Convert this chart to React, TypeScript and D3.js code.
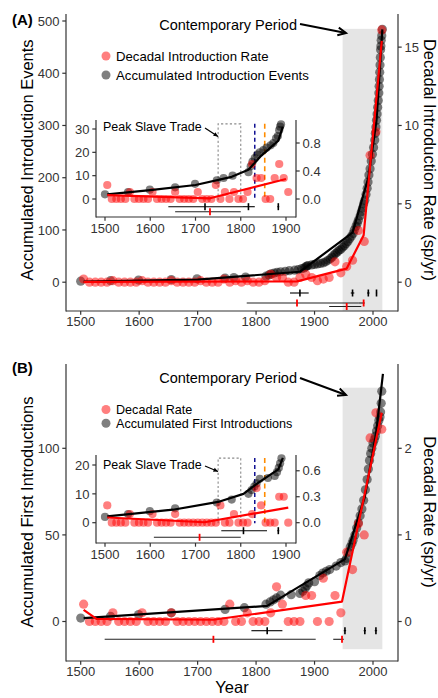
import React from "react";
import * as d3 from "d3";

// ---------- DATA ----------
const decades = [1505, 1515, 1525, 1535, 1545, 1555, 1565, 1575, 1585, 1595, 1605, 1615, 1625, 1635, 1645, 1655, 1665, 1675, 1685, 1695, 1705, 1715, 1725, 1735, 1745, 1755, 1765, 1775, 1785, 1795, 1805, 1815, 1825, 1835, 1845, 1855, 1865, 1875, 1885, 1895, 1905, 1915, 1925, 1935, 1945, 1955, 1965, 1975, 1985, 1995, 2005, 2015];

const rateA = [0.2, 0, 0, 0, 0, 0.1, 0, 0, 0, 0, 0.1, 0, 0, 0, 0, 0.1, 0, 0, 0, 0, 0.1, 0, 0, 0, 0.2, 0, 0.1, 0, 0.1, 0, 0, 0.1, 0.5, 0.3, 0.3, 0, 0, 0.3, 0.5, 0.3, 0.1, 0.2, 0.3, 1.3, 0.6, 1.0, 1.4, 3.3, 2.6, 8.1, 9.6, 16.1];

const rateB = [0.2, 0, 0, 0, 0, 0.1, 0, 0, 0, 0, 0.1, 0, 0, 0, 0, 0.1, 0, 0, 0, 0, 0, 0, 0, 0, 0, 0.2, 0, 0, 0.1, 0, 0, 0, 0.1, 0.4, 0.2, 0, 0, 0, 0.3, 0.3, 0, 0.5, 0, 0.3, 0.1, 0.8, 0.6, 1.13, 1.0, 2.12, 2.41, 2.22];

const accumA = [
  [1500, 2], [1551, 3], [1599, 4], [1655, 5], [1699, 6.5], [1747, 8], [1762, 9], [1782, 10], [1817, 11.5], [1822, 14], [1826, 16], [1831, 17.5], [1836, 19], [1842, 20], [1850, 21], [1857, 22], [1866, 23], [1872, 24], [1878, 26], [1882, 27], [1885, 29.5], [1887, 31], [1889, 32],
  [1895, 33], [1900, 34], [1905, 35], [1910, 36], [1915, 37], [1919, 39], [1923, 42], [1927, 45], [1930, 48], [1933, 52], [1936, 55], [1939, 58], [1942, 61], [1945, 63], [1948, 67], [1951, 70], [1954, 74], [1957, 78], [1960, 83], [1963, 88], [1966, 93], [1968, 100], [1971, 107], [1973, 113], [1975, 119], [1978, 127], [1980, 135], [1982, 142], [1984, 150], [1986, 157], [1988, 168], [1990, 180], [1991.5, 192], [1993, 205], [1995, 217], [1997, 232], [1999, 245], [2001, 258], [2003, 272], [2004, 285], [2005, 297], [2006, 310], [2007, 322], [2008, 335], [2009, 348], [2010, 362], [2010.5, 375], [2011, 388], [2011.5, 402], [2012, 416], [2012.5, 430], [2013, 445], [2013.5, 452], [2014, 463], [2015, 472], [2016, 484],
];

const accumB = [
  [1500, 2], [1551, 3], [1599, 4], [1655, 5], [1747, 7], [1780, 8], [1817, 10], [1824, 11.3], [1830, 12.5], [1835, 13.6], [1842, 15.2], [1860, 15.5], [1875, 16.2], [1880, 17.5], [1884, 19], [1887, 20.6], [1890, 22.3],
  [1900, 23], [1909, 26.5], [1914, 28], [1920, 29], [1926, 30], [1937, 32], [1945, 34], [1952, 35], [1955, 36.5], [1958, 40], [1961, 43], [1964, 45], [1966, 47], [1969, 50], [1972, 54], [1975, 57], [1978, 61], [1981, 65], [1984, 70], [1987, 76], [1990, 82], [1992, 88], [1994, 93], [1996, 97], [1998, 100], [2000, 103], [2002, 105], [2004, 107], [2006, 110], [2008, 113], [2010, 116], [2012, 118], [2013, 121], [2014, 126], [2015, 133],
];

const fitAccA = [[1505, 1], [1700, 5], [1875, 20], [1965, 95], [1992, 200], [2006, 310], [2016, 484]];
const fitRateA = [[1505, 0.02], [1870, 0.05], [1955, 0.87], [1984, 3.0], [2015, 15.4]];
const fitAccB = [[1505, 2], [1819, 9], [1952, 36], [1986, 72], [2005, 108], [2017, 143]];
const fitRateB = [[1505, 0.135], [1527, 0.03], [1727, 0.02], [1947, 0.23], [2015, 2.41]];

const insetFitAccA = [[1505, 2], [1600, 3.8], [1700, 6], [1780, 9.5], [1817, 12.5], [1845, 18.5], [1883, 25], [1893, 31]];
const insetFitRateA = [[1505, 0.055], [1732, 0.01], [1900, 0.285]];
const insetFitAccB = [[1505, 2.2], [1650, 4.5], [1750, 7.2], [1806, 10], [1840, 14], [1883, 18.5], [1893, 22.5]];
const insetFitRateB = [[1505, 0.06], [1720, 0.005], [1905, 0.175]];

const bpAccA = [{ est: 1875, lo: 1858, hi: 1890 }, { est: 1965, lo: 1962, hi: 1968 }, { est: 1992, lo: 1990, hi: 1994 }, { est: 2006, lo: 2005, hi: 2007 }];
const bpRateA = [{ est: 1870, lo: 1784, hi: 1975 }, { est: 1984, lo: 1975, hi: 1986 }];
const bpRateA2 = [{ est: 1955, lo: 1925, hi: 1980 }];
const bpAccB = [{ est: 1819, lo: 1792, hi: 1845 }, { est: 1952, lo: 1950, hi: 1954 }, { est: 1986, lo: 1984, hi: 1988 }, { est: 2005, lo: 2003, hi: 2007 }];
const bpRateB = [{ est: 1727, lo: 1541, hi: 1902 }, { est: 1947, lo: 1932, hi: 1950 }];
const insetBpAccA = [{ est: 1721, lo: 1640, hi: 1805 }, { est: 1817, lo: 1805, hi: 1831 }, { est: 1883, lo: 1881, hi: 1885 }];
const insetBpRateA = [{ est: 1732, lo: 1655, hi: 1800 }];
const insetBpAccB = [{ est: 1806, lo: 1757, hi: 1858 }, { est: 1883, lo: 1881, hi: 1885 }];
const insetBpRateB = [{ est: 1709, lo: 1608, hi: 1800 }];

const xTicksMain = [1500, 1600, 1700, 1800, 1900, 2000];
const xTicksInset = [1500, 1600, 1700, 1800, 1900];
const yTicksA = [0, 100, 200, 300, 400, 500];
const rTicksA = [0, 5, 10, 15];
const yTicksInsetA = [0, 10, 20, 30];
const rTicksInsetA = [0, 0.4, 0.8];
const yTicksB = [0, 50, 100];
const rTicksB = [0, 1, 2];
const yTicksInsetB = [0, 10, 20];
const rTicksInsetB = [0, 0.3, 0.6];

const factorA = 30;
const factorB = 50;
const factorInset = 30;
const slaveTrade = [1750, 1800];
const markerBlue = 1831;
const markerOrange = 1853;
const contemporary = [1948, 2016];

// ---------- STYLE ----------
const FONT = "'Liberation Sans', Arial, Helvetica, sans-serif";
const RED_PT = "rgba(255,0,0,0.5)";
const BLK_PT = "rgba(0,0,0,0.5)";
const AXIS = "#333";
const TICKTXT = "#333";

type BP = { est: number; lo: number; hi: number };

function Arrow({ x1, y1, x2, y2, len, sw, filled }: any) {
  const a = Math.atan2(y2 - y1, x2 - x1);
  const s = 0.45;
  const p1 = [x2 - len * Math.cos(a - s), y2 - len * Math.sin(a - s)];
  const p2 = [x2 - len * Math.cos(a + s), y2 - len * Math.sin(a + s)];
  return (
    <g>
      <line x1={x1} y1={y1} x2={x2} y2={y2} stroke="#000" strokeWidth={sw} />
      {filled ? (
        <polygon points={`${p1[0]},${p1[1]} ${x2},${y2} ${p2[0]},${p2[1]}`} fill="#000" />
      ) : (
        <polyline points={`${p1[0]},${p1[1]} ${x2},${y2} ${p2[0]},${p2[1]}`} fill="none" stroke="#000" strokeWidth={sw} />
      )}
    </g>
  );
}

function Plot(p: any) {
  const { xs, ys, box, factor, xTicks, yTicks, rTicks, rFmt, accum, rateX, rateY, fitAcc, fitRate, bpAcc, bpRateRows, rowAcc, rowRate, r, fs, xLabY } = p;
  const line = d3.line<number[]>().x((d) => xs(d[0])).y((d) => ys(d[1]));
  const rline = d3.line<number[]>().x((d) => xs(d[0])).y((d) => ys(d[1] * factor));
  return (
    <g>
      {p.bg && <rect x={box.l} y={box.t} width={box.r - box.l} height={box.b - box.t} fill="#fff" />}
      {p.under}
      {accum.map((d: number[], i: number) => (
        <circle key={"a" + i} cx={xs(d[0])} cy={ys(d[1])} r={r} fill={BLK_PT} />
      ))}
      {rateX.map((x: number, i: number) => (
        <circle key={"r" + i} cx={xs(x)} cy={ys(rateY[i] * factor)} r={r} fill={RED_PT} />
      ))}
      <path d={line(fitAcc) || ""} stroke="#000" strokeWidth={2.2} fill="none" strokeLinejoin="round" />
      <path d={rline(fitRate) || ""} stroke="#ff0000" strokeWidth={2.2} fill="none" strokeLinejoin="round" />
      {bpAcc.map((b: BP, i: number) => (
        <g key={"ba" + i}>
          <line x1={xs(b.lo)} x2={xs(b.hi)} y1={rowAcc} y2={rowAcc} stroke="#000" strokeWidth={1.1} />
          <line x1={xs(b.est)} x2={xs(b.est)} y1={rowAcc - 3.5} y2={rowAcc + 3.5} stroke="#000" strokeWidth={1.6} />
        </g>
      ))}
      {bpRateRows.map((row: BP[], k: number) =>
        row.map((b: BP, i: number) => (
          <g key={"br" + k + "_" + i}>
            <line x1={xs(b.lo)} x2={xs(b.hi)} y1={rowRate[k]} y2={rowRate[k]} stroke="#222" strokeWidth={1.1} />
            <line x1={xs(b.est)} x2={xs(b.est)} y1={rowRate[k] - 3.5} y2={rowRate[k] + 3.5} stroke="#ff0000" strokeWidth={1.8} />
          </g>
        ))
      )}
      <g stroke={AXIS} strokeWidth={1.2} fill="none">
        <line x1={box.l} x2={box.l} y1={box.t} y2={box.b + 0.6} />
        <line x1={box.r} x2={box.r} y1={box.t} y2={box.b + 0.6} />
        <line x1={box.l} x2={box.r} y1={box.b} y2={box.b} />
        {xTicks.map((t: number) => (
          <line key={"xt" + t} x1={xs(t)} x2={xs(t)} y1={box.b} y2={box.b + 3.7} />
        ))}
        {yTicks.map((t: number) => (
          <line key={"yt" + t} x1={box.l - 3.7} x2={box.l} y1={ys(t)} y2={ys(t)} />
        ))}
        {rTicks.map((t: number) => (
          <line key={"rt" + t} x1={box.r} x2={box.r + 3.7} y1={ys(t * factor)} y2={ys(t * factor)} />
        ))}
      </g>
      <g fontFamily={FONT} fontSize={fs} fill={TICKTXT}>
        {xTicks.map((t: number) => (
          <text key={"xl" + t} x={xs(t)} y={box.b + xLabY} textAnchor="middle">{t}</text>
        ))}
        {yTicks.map((t: number) => (
          <text key={"yl" + t} x={box.l - 6.6} y={ys(t) + fs * 0.36} textAnchor="end">{t}</text>
        ))}
        {rTicks.map((t: number) => (
          <text key={"rl" + t} x={box.r + 6.6} y={ys(t * factor) + fs * 0.36} textAnchor="start">{rFmt(t)}</text>
        ))}
      </g>
    </g>
  );
}

function InsetGuides({ xs, ys, top, bottom }: any) {
  const xa = xs(slaveTrade[0]);
  const xb = xs(slaveTrade[1]);
  const yt = ys(top);
  const yb = ys(bottom);
  return (
    <g>
      <path d={`M${xa},${yb} L${xa},${yt} L${xb},${yt} L${xb},${yb}`} fill="none" stroke="#8a8a8a" strokeWidth={1.1} strokeDasharray="2.2,2.2" />
      <line x1={xs(markerBlue)} x2={xs(markerBlue)} y1={yt} y2={yb} stroke="#00008B" strokeWidth={1.4} strokeDasharray="4,3" />
      <line x1={xs(markerOrange)} x2={xs(markerOrange)} y1={yt} y2={yb} stroke="#FF8C00" strokeWidth={1.6} strokeDasharray="5,3.5" />
    </g>
  );
}

export default function App() {
  const xMain = d3.scaleLinear().domain([1500, 2000]).range([80.7, 373]);
  const yA = d3.scaleLinear().domain([0, 500]).range([282.2, 21]);
  const yB = d3.scaleLinear().domain([0, 100]).range([621.5, 448.3]);
  const xIn = d3.scaleLinear().domain([1500, 1900]).range([105, 286]);
  const yInA = d3.scaleLinear().domain([0, 30]).range([199, 129]);
  const yInB = d3.scaleLinear().domain([0, 20]).range([522.7, 465]);

  const boxA = { l: 66, r: 398, t: 14, b: 311 };
  const boxB = { l: 66, r: 398, t: 364, b: 661 };
  const boxInA = { l: 96, r: 296, t: 120, b: 217 };
  const boxInB = { l: 96, r: 296, t: 455, b: 543 };

  const inRateIdx = decades.map((d, i) => i).filter((i) => decades[i] <= 1910);
  const inRateX = inRateIdx.map((i) => decades[i]);
  const inRateA = inRateIdx.map((i) => rateA[i]);
  const inRateB = inRateIdx.map((i) => rateB[i]);
  const inAccA = accumA.filter((d) => d[0] <= 1892);
  const inAccB = accumB.filter((d) => d[0] <= 1892);

  const fmt1 = (v: number) => d3.format(".1f")(v);
  const fmt0 = (v: number) => String(v);

  const shadeA = (
    <rect x={xMain(contemporary[0])} width={xMain(contemporary[1]) - xMain(contemporary[0])} y={yA(485)} height={yA(-55) - yA(485)} fill="#e5e5e5" />
  );
  const shadeB = (
    <rect x={xMain(contemporary[0])} width={xMain(contemporary[1]) - xMain(contemporary[0])} y={yB(135)} height={yB(-16) - yB(135)} fill="#e5e5e5" />
  );

  return (
    <svg width={438} height={698} viewBox="0 0 438 698" style={{ position: "absolute", left: 0, top: 0, background: "#fff" }}>
      <rect x={0} y={0} width={438} height={698} fill="#fff" />
      {/* ===== Panel A ===== */}
      <Plot xs={xMain} ys={yA} box={boxA} factor={factorA} xTicks={xTicksMain} yTicks={yTicksA} rTicks={rTicksA} rFmt={fmt0}
        accum={accumA} rateX={decades} rateY={rateA} fitAcc={fitAccA} fitRate={fitRateA}
        bpAcc={bpAccA} bpRateRows={[bpRateA, bpRateA2]} rowAcc={293} rowRate={[303, 306.5]} r={4.6} fs={13} xLabY={14.5}
        under={shadeA} />
      <Plot xs={xIn} ys={yInA} box={boxInA} factor={factorInset} xTicks={xTicksInset} yTicks={yTicksInsetA} rTicks={rTicksInsetA} rFmt={fmt1}
        accum={inAccA} rateX={inRateX} rateY={inRateA} fitAcc={insetFitAccA} fitRate={insetFitRateA}
        bpAcc={insetBpAccA} bpRateRows={[insetBpRateA]} rowAcc={206.7} rowRate={[211.7]} r={4.1} fs={13} xLabY={15.5} bg
        under={<InsetGuides xs={xIn} ys={yInA} top={32.2} bottom={-0.5} />} />
      <g fontFamily={FONT}>
        <text x={12} y={25} fontSize={15} fontWeight="bold">(A)</text>
        <text x={297} y={30} fontSize={14.5} textAnchor="end">Contemporary Period</text>
        <circle cx={106} cy={56} r={4.5} fill={RED_PT} />
        <circle cx={106} cy={75} r={4.5} fill={BLK_PT} />
        <text x={116} y={60.5} fontSize={13.2}>Decadal Introduction Rate</text>
        <text x={116} y={79.5} fontSize={13.2}>Accumulated Introduction Events</text>
        <text x={103} y={131} fontSize={12.5}>Peak Slave Trade</text>
        <text transform="translate(33,160) rotate(-90)" fontSize={16.5} textAnchor="middle">Accumulated Introduction Events</text>
        <text transform="translate(424,160) rotate(90)" fontSize={16.5} textAnchor="middle">Decadal Introduction Rate (sp/yr)</text>
      </g>
      <Arrow x1={300} y1={24} x2={346} y2={33} len={9} sw={2} />
      <Arrow x1={205} y1={128} x2={218} y2={136.5} len={5} sw={1.2} filled />

      {/* ===== Panel B ===== */}
      <Plot xs={xMain} ys={yB} box={boxB} factor={factorB} xTicks={xTicksMain} yTicks={yTicksB} rTicks={rTicksB} rFmt={fmt0}
        accum={accumB} rateX={decades} rateY={rateB} fitAcc={fitAccB} fitRate={fitRateB}
        bpAcc={bpAccB} bpRateRows={[bpRateB]} rowAcc={630.7} rowRate={[639.3]} r={4.6} fs={13} xLabY={14.5}
        under={shadeB} />
      <Plot xs={xIn} ys={yInB} box={boxInB} factor={factorInset} xTicks={xTicksInset} yTicks={yTicksInsetB} rTicks={rTicksInsetB} rFmt={fmt1}
        accum={inAccB} rateX={inRateX} rateY={inRateB} fitAcc={insetFitAccB} fitRate={insetFitRateB}
        bpAcc={insetBpAccB} bpRateRows={[insetBpRateB]} rowAcc={530.7} rowRate={[537.3]} r={4.1} fs={13} xLabY={15.5} bg
        under={<InsetGuides xs={xIn} ys={yInB} top={22.4} bottom={-0.2} />} />
      <g fontFamily={FONT}>
        <text x={12} y={373} fontSize={15} fontWeight="bold">(B)</text>
        <text x={297} y={383} fontSize={14.5} textAnchor="end">Contemporary Period</text>
        <circle cx={106} cy={409.5} r={4.5} fill={RED_PT} />
        <circle cx={106} cy={423.2} r={4.5} fill={BLK_PT} />
        <text x={116} y={413.8} fontSize={12.6}>Decadal Rate</text>
        <text x={116} y={427.5} fontSize={12.6}>Accumulated First Introductions</text>
        <text x={103} y={469} fontSize={12.5}>Peak Slave Trade</text>
        <text transform="translate(33,512) rotate(-90)" fontSize={16.5} textAnchor="middle">Accumulated First Introductions</text>
        <text transform="translate(424,512) rotate(90)" fontSize={16.5} textAnchor="middle">Decadal Rate (sp/yr)</text>
        <text x={232} y={693} fontSize={16.5} textAnchor="middle">Year</text>
      </g>
      <Arrow x1={300} y1={378} x2={346} y2={395} len={9} sw={2} />
      <Arrow x1={205} y1={466} x2={218} y2={471.5} len={5} sw={1.2} filled />
    </svg>
  );
}
